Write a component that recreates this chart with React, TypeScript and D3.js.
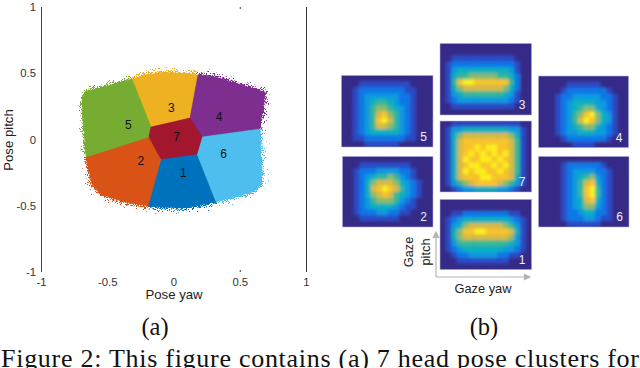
import React from "react";
import * as d3 from "d3";

// ---------- data ----------
const clusterIds = [1, 2, 3, 4, 5, 6, 7];
const clusterColors = ["#0072bd", "#d95319", "#edb120", "#7e2f8e", "#77ac30", "#4dbeee", "#a2142f"];
const cluster1: number[][] = [[-0.098,-0.147],[0.174,-0.109],[0.317,-0.47],[0.19,-0.497],[0.06,-0.517],[-0.07,-0.512],[-0.196,-0.502]];
const cluster2: number[][] = [[-0.664,-0.132],[-0.189,0.019],[-0.098,-0.147],[-0.196,-0.502],[-0.38,-0.47],[-0.558,-0.411],[-0.619,-0.336]];
const cluster3: number[][] = [[-0.317,0.457],[-0.2,0.49],[-0.07,0.505],[0.06,0.5],[0.181,0.487],[0.121,0.162],[-0.174,0.094]];
const cluster4: number[][] = [[0.181,0.487],[0.32,0.47],[0.445,0.43],[0.687,0.358],[0.649,0.079],[0.211,0.019],[0.121,0.162]];
const cluster5: number[][] = [[-0.664,-0.132],[-0.694,0.298],[-0.672,0.358],[-0.506,0.404],[-0.317,0.457],[-0.174,0.094],[-0.189,0.019]];
const cluster6: number[][] = [[0.211,0.019],[0.649,0.079],[0.664,-0.336],[0.596,-0.396],[0.317,-0.47],[0.174,-0.109]];
const cluster7: number[][] = [[-0.189,0.019],[-0.174,0.094],[0.121,0.162],[0.211,0.019],[0.174,-0.109],[-0.098,-0.147]];
const clusters = [cluster1, cluster2, cluster3, cluster4, cluster5, cluster6, cluster7];
const labelPoints: number[][] = [[0.07,-0.25],[-0.25,-0.155],[-0.02,0.245],[0.34,0.17],[-0.345,0.115],[0.375,-0.105],[0.02,0.02]];

const xTicks = [-1, -0.5, 0, 0.5, 1];
const yTicks = [1, 0.5, 0, -0.5, -1];

const heat1 = ["0000000000000000","0000000000000000","0011222222221100","0123444444443210","0134677777765310","0146889988887410","0146777777776310","0135555555554310","0123444444433210","0012233333221100","0001111111110000","0000000000000000"];
const heat2 = ["0000000000000000","0001111111110000","0012223333221000","0012345565321000","0012467776432100","0012478987532100","0012467875432100","0012356665321000","0012344443211000","0012223322110000","0001111111000000","0000000000000000"];
const heat3 = ["0000000000000000","0000000000000000","0011111111111000","0122222222222100","0134444444443100","0145566666554200","0158998888885200","0146777777764200","0134555555543100","0123333333332100","0011111111111000","0000000000000000"];
const heat4 = ["0000000000000000","0000011111100000","0000122222221000","0001223333322100","0001234444332100","0001234566432100","0001235689643100","0001235798643100","0001234566432100","0001233444332100","0000122222221000","0000001111000000"];
const heat5 = ["0000000000000000","0001111111110000","0012222222211000","0012333333221000","0012345543221000","0012356654321000","0012357865321000","0012358975321000","0012357765321000","0012344444321000","0011222222211000","0000111111000000"];
const heat6 = ["0000000000000000","0000122222210000","0000123333221000","0000123456321000","0000123578421000","0000123589521000","0000123589521000","0000123478421000","0000123466321000","0000122344221000","0000122233211000","0000011111100000"];
const heat7 = ["0011111111111100","0133444444443310","0146777777776410","0147888888887510","0147889899887510","0147898989897510","0147988998987510","0147899889897510","0147989988987510","0147888998887410","0135678888765310","0012334444332100"];
const heats = [heat1, heat2, heat3, heat4, heat5, heat6, heat7];
const parulaStops = ["#352a87","#2b4bc6","#0f78e8","#0a9be0","#0cb0c0","#35b898","#8cbc6c","#d8ba45","#f9c42c","#fdf01a"];

// ---------- layout ----------
const panelBoxes = [
  { x: 440, y: 199.5, w: 91.5, h: 70 },
  { x: 342.5, y: 156.5, w: 90.5, h: 70.5 },
  { x: 440, y: 43.5, w: 91.5, h: 71.5 },
  { x: 538.5, y: 76, w: 90, h: 71.5 },
  { x: 341.5, y: 75.5, w: 91.5, h: 71.5 },
  { x: 538.5, y: 156.5, w: 90.5, h: 70.5 },
  { x: 440, y: 121, w: 91.5, h: 71 },
];

const sans = "'Liberation Sans', Arial, sans-serif";
const serif = "'Liberation Serif', 'Times New Roman', serif";

const xScale = d3.scaleLinear().domain([-1, 1]).range([41.5, 306.5]);
const yScale = d3.scaleLinear().domain([1, -1]).range([7, 272]);
const line = d3.line<number[]>().x((d) => xScale(d[0])).y((d) => yScale(d[1])).curve(d3.curveLinearClosed);
const parula = d3.scaleLinear<string>().domain(d3.range(10)).range(parulaStops).interpolate(d3.interpolateRgb);

function HeatPanel({ index }: { index: number }) {
  const box = panelBoxes[index];
  const grid = heats[index];
  const xb = d3.scaleBand<number>().domain(d3.range(grid[0].length)).range([box.x, box.x + box.w]);
  const yb = d3.scaleBand<number>().domain(d3.range(grid.length)).range([box.y, box.y + box.h]);
  const id = clusterIds[index];
  return (
    <g>
      <clipPath id={`clip${id}`}>
        <rect x={box.x} y={box.y} width={box.w} height={box.h} />
      </clipPath>
      <rect x={box.x} y={box.y} width={box.w} height={box.h} fill={parulaStops[0]} />
      <g clipPath={`url(#clip${id})`}>
        <g filter="url(#soft)">
          {grid.map((row, r) =>
            row.split("").map((c, k) => (
              <rect key={`${r}-${k}`} x={xb(k)} y={yb(r)} width={xb.bandwidth() + 0.5} height={yb.bandwidth() + 0.5} fill={parula(+c)} />
            ))
          )}
        </g>
      </g>
      <rect x={box.x} y={box.y} width={box.w} height={box.h} fill="none" stroke="#b9b6dc" strokeWidth={0.6} />
      <text x={box.x + box.w - 6} y={box.y + box.h - 6} textAnchor="end" fontFamily={sans} fontSize={12} fill="#eef0f6">{id}</text>
    </g>
  );
}

export default function App() {
  return (
    <svg width={640} height={368} viewBox="0 0 640 368" style={{ position: "absolute", left: 0, top: 0, background: "#fff" }}>
      <defs>
        <filter id="rough" x="-20%" y="-20%" width="140%" height="140%">
          <feTurbulence type="fractalNoise" baseFrequency="0.95" numOctaves={2} seed={4} result="n" />
          <feDisplacementMap in="SourceGraphic" in2="n" scale={24} xChannelSelector="R" yChannelSelector="G" />
        </filter>
        <filter id="rough2" x="-20%" y="-20%" width="140%" height="140%">
          <feTurbulence type="fractalNoise" baseFrequency="0.8" numOctaves={1} seed={11} result="n" />
          <feDisplacementMap in="SourceGraphic" in2="n" scale={15} xChannelSelector="G" yChannelSelector="R" />
        </filter>
        <filter id="soft" x="-5%" y="-5%" width="110%" height="110%">
          <feGaussianBlur stdDeviation={1.5} />
        </filter>
        <filter id="tiny" x="-5%" y="-5%" width="110%" height="110%">
          <feGaussianBlur stdDeviation={0.35} />
        </filter>
        <marker id="arrow" markerWidth={7} markerHeight={6} refX={5} refY={3} orient="auto">
          <path d="M0,0 L6,3 L0,6 Z" fill="#b4b4b4" />
        </marker>
      </defs>

      {/* axis frame */}
      <line x1={xScale(-1)} x2={xScale(-1)} y1={yScale(1)} y2={yScale(-1)} stroke="#444" strokeWidth={1} />
      <line x1={xScale(1)} x2={xScale(1)} y1={yScale(1)} y2={yScale(-1)} stroke="#333" strokeWidth={1} />
      {[1, -1].map((v) => (
        <line key={v} x1={xScale(0.5)} x2={xScale(0.5)} y1={yScale(v) + (v > 0 ? 0 : -2)} y2={yScale(v) + (v > 0 ? 2 : 0)} stroke="#333" strokeWidth={1} />
      ))}
      {yTicks.map((t) => (
        <text key={t} x={36} y={yScale(t) + 4} textAnchor="end" fontFamily={sans} fontSize={11.3} fill="#333">{t}</text>
      ))}
      {xTicks.map((t) => (
        <text key={t} x={xScale(t)} y={285.5} textAnchor="middle" fontFamily={sans} fontSize={11.3} fill="#333">{t}</text>
      ))}
      <text x={174} y={299} textAnchor="middle" fontFamily={sans} fontSize={13.2} fill="#222">Pose yaw</text>
      <text transform="translate(12.5,140) rotate(-90)" textAnchor="middle" fontFamily={sans} fontSize={13.2} fill="#222">Pose pitch</text>

      {/* clusters */}
      <g filter="url(#rough)">
        {clusters.map((c, i) => <path key={i} d={line(c) ?? ""} fill={clusterColors[i]} />)}
      </g>
      <g filter="url(#rough2)">
        {clusters.map((c, i) => <path key={i} d={line(c) ?? ""} fill={clusterColors[i]} />)}
      </g>
      <g filter="url(#tiny)">
        {clusters.map((c, i) => <path key={i} d={line(c) ?? ""} fill={clusterColors[i]} stroke={clusterColors[i]} strokeWidth={0.5} />)}
      </g>
      {labelPoints.map((p, i) => (
        <text key={i} x={xScale(p[0])} y={yScale(p[1]) + 4.5} textAnchor="middle" fontFamily={sans} fontSize={12} fill="#111">{clusterIds[i]}</text>
      ))}

      {/* heat maps */}
      {clusterIds.map((_, i) => <HeatPanel key={i} index={i} />)}

      {/* gaze arrows */}
      <path d="M436,277 L436,232" stroke="#b4b4b4" strokeWidth={1.2} fill="none" markerEnd="url(#arrow)" />
      <path d="M436,277 L530,277" stroke="#b4b4b4" strokeWidth={1.2} fill="none" markerEnd="url(#arrow)" />
      <text transform="translate(412.5,252) rotate(-90)" textAnchor="middle" fontFamily={sans} fontSize={12.8} fill="#222">Gaze</text>
      <text transform="translate(429.5,252) rotate(-90)" textAnchor="middle" fontFamily={sans} fontSize={12.8} fill="#222">pitch</text>
      <text x={483} y={293} textAnchor="middle" fontFamily={sans} fontSize={12.8} fill="#222">Gaze yaw</text>

      {/* captions */}
      <text x={155} y={335} textAnchor="middle" fontFamily={serif} fontSize={24.5} fill="#111">(a)</text>
      <text x={484} y={335} textAnchor="middle" fontFamily={serif} fontSize={24.5} fill="#111">(b)</text>
      <text x={1} y={367} fontFamily={serif} fontSize={26} textLength={638} fill="#111">Figure 2: This figure contains (a) 7 head pose clusters for</text>
    </svg>
  );
}
